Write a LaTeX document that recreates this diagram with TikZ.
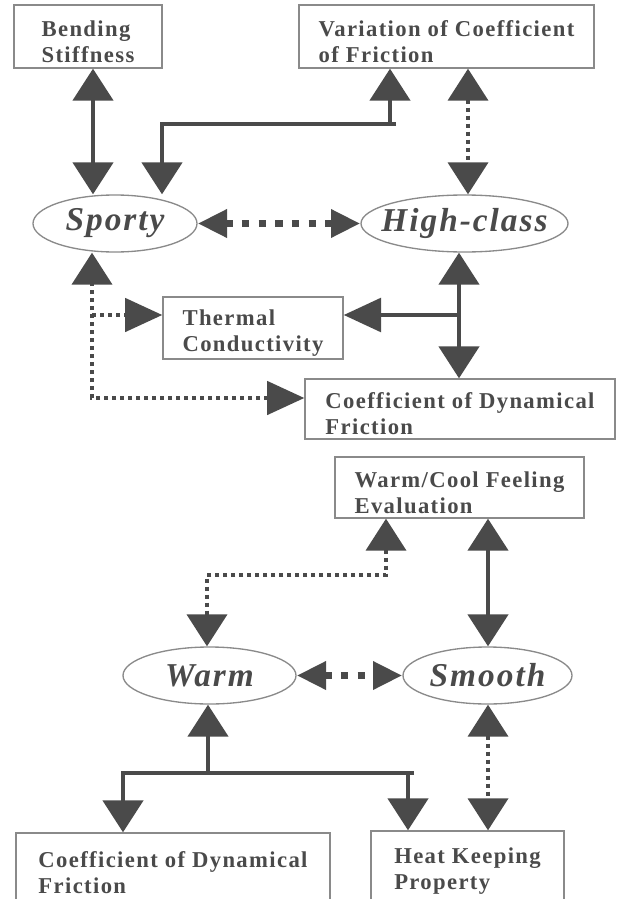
\documentclass[tikz,border=0pt]{standalone}
\usepackage{fontspec}
\setmainfont{Liberation Serif}
\newfontfamily\boxfont{Liberation Serif}[LetterSpace=6]
\usetikzlibrary{arrows.meta,shapes.geometric}
\definecolor{ink}{HTML}{4A4A4A}
\definecolor{rim}{HTML}{8A8A8A}
\newcommand\slimtext[1]{\raisebox{-3pt}{\makebox[0pt]{#1}}}
\newcommand\topstrut{\vphantom{\rule{0pt}{19pt}}}
\begin{document}
\begin{tikzpicture}[x=0.75pt, y=-0.75pt,
    box/.style={draw=rim, line width=1pt, align=left, text=ink, inner sep=0pt,
      font=\fontsize{17}{19.5}\selectfont\boxfont\bfseries},
    feel/.style={ellipse, draw=rim, line width=1pt, inner sep=0pt, text=ink,
      minimum height=42.75pt, font=\fontsize{25}{28}\selectfont\boxfont\bfseries\itshape},
    link/.style={draw=ink, line width=3.5pt},
    dots/.style={draw=ink, line width=3pt, dash pattern=on 3pt off 3pt},
    bigdots/.style={draw=ink, line width=5.5pt, dash pattern=on 5.5pt off 7pt},
    vtip/.tip={Triangle[length=24pt, width=30pt]},
    htip/.tip={Triangle[length=28pt, width=25pt]},
    etip/.tip={Triangle[length=22pt, width=20pt]}]
  \useasboundingbox (0,0) rectangle (624,899);
  \node[box, minimum width=111pt, minimum height=47.25pt] (bend) at (88,36.5) {\topstrut Bending\\Stiffness};
  \node[box, minimum width=221.25pt, minimum height=47.25pt] (vari) at (446.5,36.5) {\topstrut Variation of Coefficient\\of Friction};
  \node[feel, minimum width=123pt] (sporty) at (115,223.5) {\slimtext{Sporty}};
  \node[feel, minimum width=155.25pt] (high) at (464.5,223.5) {\slimtext{High-class}};
  \node[box, minimum width=135pt, minimum height=46.5pt] (therm) at (253,328) {\topstrut Thermal\\Conductivity};
  \node[box, minimum width=232.5pt, minimum height=45pt] (dyna) at (460,409) {\topstrut Coefficient of Dynamical\\Friction};
  \node[box, minimum width=186.75pt, minimum height=45.75pt] (feeling) at (459.5,487.5) {\topstrut Warm/Cool Feeling\\Evaluation};
  \node[feel, minimum width=129.75pt] (warm) at (209.5,675.5) {\slimtext{Warm}};
  \node[feel, minimum width=126.75pt] (smooth) at (487.5,675.5) {\slimtext{Smooth}};
  \node[box, minimum width=235.5pt, minimum height=52.5pt] (dynb) at (173,868) {\topstrut Coefficient of Dynamical\\Friction};
  \node[box, minimum width=144.75pt, minimum height=52.5pt] (heat) at (467.5,866) {\topstrut Heat Keeping\\Property};
  \draw[link, vtip-vtip] (93,0 |- bend.south) -- (93,0 |- sporty.north);
  \draw[link, -vtip] (390,124) -- (390,0 |- vari.south);
  \draw[link, -vtip] (396,124) -| (162,0 |- sporty.north);
  \draw[dots, vtip-vtip] (468,0 |- vari.south) -- (468,0 |- high.north);
  \draw[bigdots, etip-etip] (sporty.east) -- (high.west);
  \draw[link, vtip-vtip] (459,0 |- high.south) -- (459,0 |- dyna.north);
  \draw[link, -htip] (459,315) -- (therm.east |- 0,315);
  \draw[dots, htip-vtip] (dyna.west |- 0,398) -| (92,0 |- sporty.south);
  \draw[dots, -htip] (92,315) -- (therm.west |- 0,315);
  \draw[dots, vtip-vtip] (386,0 |- feeling.south) |- (207,575) -- (207,0 |- warm.north);
  \draw[link, vtip-vtip] (488,0 |- feeling.south) -- (488,0 |- smooth.north);
  \draw[bigdots, etip-etip] (warm.east) -- (smooth.west);
  \draw[dots, vtip-vtip] (488,0 |- smooth.south) -- (488,0 |- heat.north);
  \draw[link, -vtip] (208,773) -- (208,0 |- warm.south);
  \draw[link, -vtip] (414,773) -| (123,0 |- dynb.north);
  \draw[link, -vtip] (408,773) -- (408,0 |- heat.north);
\end{tikzpicture}
\end{document}
